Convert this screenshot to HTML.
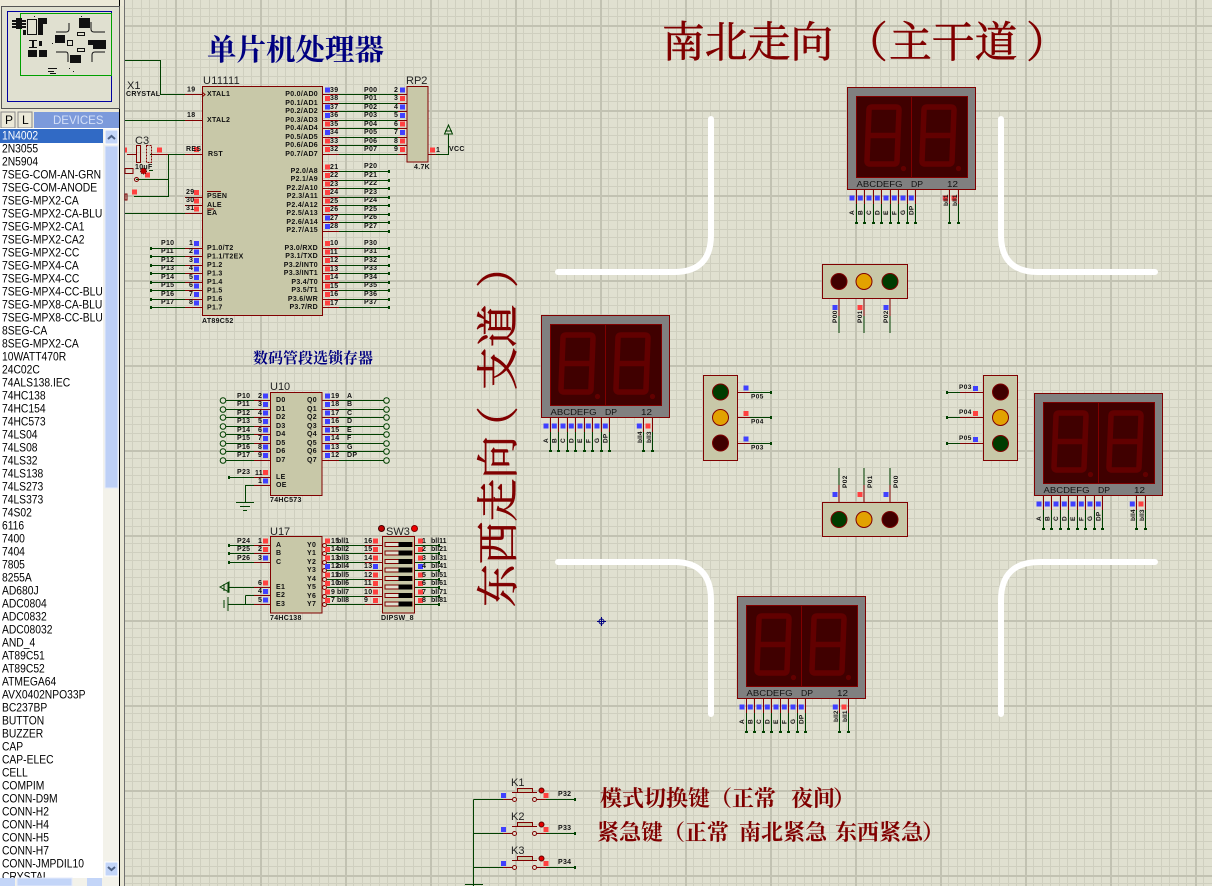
<!DOCTYPE html>
<html><head><meta charset="utf-8"><style>
html,body{margin:0;padding:0;background:#ece9d8}
svg{display:block}
.t{font:bold 6.5px "Liberation Sans",sans-serif;fill:#111;letter-spacing:.4px}
.n{font:bold 7px "Liberation Sans",sans-serif;fill:#111;letter-spacing:.3px}
.b{font:11px "Liberation Sans",sans-serif;fill:#222}
.d{font:12px "Liberation Sans",sans-serif;fill:#000}
.h{font-family:"Liberation Serif","Noto Serif CJK SC",serif;fill:#800000}
.hl{font-size:42.8px;stroke:#800000;stroke-width:.6px}
.hm{font-size:22px;font-weight:bold}
.s{font-family:"Liberation Serif","Noto Serif CJK SC",serif;fill:#000080;font-weight:bold}
.x{font:8.5px "Liberation Sans",sans-serif;fill:#111}
.g{fill:none;stroke:#004000;stroke-width:1}
.a{fill:none;stroke:#004000;stroke-width:3}
.m{fill:none;stroke:#800000;stroke-width:1}
.R{fill:none;stroke:#ff4040;stroke-width:5}
.B{fill:none;stroke:#4040ff;stroke-width:5}
.c{fill:#c8c8a8;stroke:#800000;stroke-width:1}
</style></head><body>
<svg xmlns="http://www.w3.org/2000/svg" width="1212" height="886" viewBox="0 0 1212 886">
<defs>
<pattern id="grid" x="5" y="25" width="85" height="85" patternUnits="userSpaceOnUse">
<rect width="85" height="85" fill="#e0e0d0"/>
<path fill="#cfcfbf" d="M8 0h1v85h-1zM17 0h1v85h-1zM25 0h1v85h-1zM34 0h1v85h-1zM42 0h1v85h-1zM51 0h1v85h-1zM59 0h1v85h-1zM68 0h1v85h-1zM76 0h1v85h-1zM0 8h85v1h-85zM0 17h85v1h-85zM0 25h85v1h-85zM0 34h85v1h-85zM0 42h85v1h-85zM0 51h85v1h-85zM0 59h85v1h-85zM0 68h85v1h-85zM0 76h85v1h-85z"/>
<path fill="#c2c2b2" d="M0 0h2v85h-2zM0 0h85v2h-85z"/>
</pattern>
<g id="disp">
<rect x=".5" y=".5" width="128" height="102" fill="#808080" stroke="#800000"/>
<rect x="9.5" y="9.5" width="111" height="81" fill="#400000" stroke="#800000"/>
<path d="M64.5 9.500V90.500" stroke="#800000" fill="none"/>
<g fill="none" stroke="#620000" stroke-width="5.500">
<path d="M25 20H49Q52 20 52 23L50 74Q50 77 47 77H23Q20 77 20 74L22 23Q22 20 25 20ZM21 48.500H51"/>
<path d="M80 20H104Q107 20 107 23L105 74Q105 77 102 77H78Q75 77 75 74L77 23Q77 20 80 20ZM76 48.500H106"/>
</g>
<circle cx="56.500" cy="81.500" r="2.600" fill="#620000"/><circle cx="111.500" cy="81.500" r="2.600" fill="#620000"/>
<text class="x" x="9.500" y="100" textLength="46" lengthAdjust="spacingAndGlyphs">ABCDEFG</text>
<text class="x" x="64" y="100" textLength="12" lengthAdjust="spacingAndGlyphs">DP</text>
<text class="x" x="100" y="100" textLength="11" lengthAdjust="spacingAndGlyphs">12</text>
<path class="m" d="M9.500 103v14M17.500 103v14M26.500 103v14M34.500 103v14M43.500 103v14M51.500 103v14M60.500 103v14M68.500 103v14M102.500 103v14M111.500 103v14"/>
<path class="g" d="M9.500 117v19M17.500 117v19M26.500 117v19M34.500 117v19M43.500 117v19M51.500 117v19M60.500 117v19M68.500 117v19M102.500 117v19M111.500 117v19"/>
<path fill="#004000" d="M8 135h3v2h-3zM16 135h3v2h-3zM25 135h3v2h-3zM33 135h3v2h-3zM42 135h3v2h-3zM50 135h3v2h-3zM59 135h3v2h-3zM67 135h3v2h-3zM101 135h3v2h-3zM110 135h3v2h-3z"/>
<path class="B" d="M2.500 111h5M10.800 111h5M19.500 111h5M27.800 111h5M36.500 111h5M44.800 111h5M53.500 111h5M61.800 111h5M95.800 111h5"/>
<path class="R" d="M104.500 111h5"/>
<g class="t" style="letter-spacing:.2px">
<text transform="translate(7,128)rotate(-90)">A</text><text transform="translate(15.300,128)rotate(-90)">B</text><text transform="translate(24,128)rotate(-90)">C</text><text transform="translate(32.300,128)rotate(-90)">D</text><text transform="translate(41,128)rotate(-90)">E</text><text transform="translate(49.300,128)rotate(-90)">F</text><text transform="translate(58,128)rotate(-90)">G</text><text transform="translate(66.300,128)rotate(-90)">DP</text>
</g>
</g>
</defs>

<!-- left panel -->
<rect width="1212" height="886" fill="#ece9d8"/>
<rect x="125" y="0" width="1087" height="886" fill="url(#grid)"/>
<path fill="#000" d="M119 0h1v886h-1z"/>
<path fill="#707070" d="M124 0h1v886h-1z"/>
<rect x="120" y="6" width="4" height="880" fill="#e8e6d4"/>
<rect x="1.500" y="6.500" width="118" height="102" fill="#e0e0d0" stroke="#555"/>
<rect x="7.500" y="11.500" width="104" height="90" fill="none" stroke="#0000a0"/>
<rect x="20.500" y="13.500" width="91" height="62" fill="none" stroke="#00a000"/>
<g fill="#111">
<path d="M12 20h14v2h-14zM12 23h14v2h-14zM12 26h14v2h-14zM16 18h6v11h-6zM38 18h9v6h-9zM38 24h5v11h-5zM23 30h3v5h-3z"/>
<path d="M29 40h8v1h-8zM29 47h8v1h-8zM32 40h2v8h-2zM39 41h3v5h-3zM28 50h9v7h-9zM39 50h8v7h-8z"/>
<path d="M79 18h11v10h-11zM55 35h10v8h-10zM93 40h13v9h-13zM88 40h5v5h-5zM70 55h11v8h-11z"/>
<path d="M52 43h1v1h-1zM69 68h1v1h-1zM73 71h1v1h-1zM34 16h1v1h-1zM81 16h1v1h-1z"/>
<path d="M48 68h9v1h-9zM48 71h6v1h-6zM50 73h6v1h-6z"/>
</g>
<rect x="27.500" y="19.500" width="9" height="15" fill="#e0e0d0" stroke="#111"/>
<path fill="none" stroke="#111" d="M56 52H66q2 0 2 3V62M69 23V29q0 3-3 3H56M91 22V29q0 3 3 3H105M92 62V55q0-3 3-3H105"/>
<rect x="77.500" y="32.500" width="7" height="3" fill="#e0e0d0" stroke="#111"/>
<rect x="77.500" y="48.500" width="7" height="3" fill="#e0e0d0" stroke="#111"/>
<rect x="67.500" y="40.500" width="5" height="5" fill="#e0e0d0" stroke="#111"/>

<rect x="1" y="112" width="14" height="16" fill="#ece9d8" stroke="#888"/>
<rect x="18" y="112" width="14" height="16" fill="#ece9d8" stroke="#888"/>
<text x="5" y="124" style="font:12px 'Liberation Sans',sans-serif;fill:#000">P</text>
<text x="22" y="124" style="font:12px 'Liberation Sans',sans-serif;fill:#000">L</text>
<rect x="34" y="112" width="85" height="16" fill="#7c9adb"/>
<text x="53" y="124" style="font:11.500px 'Liberation Sans',sans-serif;fill:#d4e0f8">DEVICES</text>

<rect x="0" y="128" width="119" height="758" fill="#fff"/>
<rect x="0" y="129" width="103" height="14" fill="#316ac5"/>
<rect x="103" y="129" width="16" height="749" fill="#f3f2ea"/>
<rect x="105" y="130" width="13" height="14" fill="#c3d5f8" stroke="#fff"/>
<path d="M108 139l3.500-3 3.500 3" fill="none" stroke="#4d6185" stroke-width="2"/>
<rect x="105" y="146" width="13" height="342" fill="#bed0f6" stroke="#e4ebfb"/>
<rect x="105" y="862" width="13" height="14" fill="#c3d5f8" stroke="#fff"/>
<path d="M108 867l3.500 3 3.500-3" fill="none" stroke="#4d6185" stroke-width="2"/>
<text class="d" y="126.500" transform="scale(.86,1)">
<tspan x="2.300" dy="13" style="fill:#fff">1N4002</tspan>
<tspan x="2.300" dy="13">2N3055</tspan><tspan x="2.300" dy="13">2N5904</tspan><tspan x="2.300" dy="13">7SEG-COM-AN-GRN</tspan><tspan x="2.300" dy="13">7SEG-COM-ANODE</tspan><tspan x="2.300" dy="13">7SEG-MPX2-CA</tspan><tspan x="2.300" dy="13">7SEG-MPX2-CA-BLU</tspan><tspan x="2.300" dy="13">7SEG-MPX2-CA1</tspan><tspan x="2.300" dy="13">7SEG-MPX2-CA2</tspan><tspan x="2.300" dy="13">7SEG-MPX2-CC</tspan><tspan x="2.300" dy="13">7SEG-MPX4-CA</tspan><tspan x="2.300" dy="13">7SEG-MPX4-CC</tspan><tspan x="2.300" dy="13">7SEG-MPX4-CC-BLU</tspan><tspan x="2.300" dy="13">7SEG-MPX8-CA-BLU</tspan><tspan x="2.300" dy="13">7SEG-MPX8-CC-BLU</tspan><tspan x="2.300" dy="13">8SEG-CA</tspan><tspan x="2.300" dy="13">8SEG-MPX2-CA</tspan><tspan x="2.300" dy="13">10WATT470R</tspan><tspan x="2.300" dy="13">24C02C</tspan><tspan x="2.300" dy="13">74ALS138.IEC</tspan><tspan x="2.300" dy="13">74HC138</tspan><tspan x="2.300" dy="13">74HC154</tspan><tspan x="2.300" dy="13">74HC573</tspan><tspan x="2.300" dy="13">74LS04</tspan><tspan x="2.300" dy="13">74LS08</tspan><tspan x="2.300" dy="13">74LS32</tspan><tspan x="2.300" dy="13">74LS138</tspan><tspan x="2.300" dy="13">74LS273</tspan><tspan x="2.300" dy="13">74LS373</tspan><tspan x="2.300" dy="13">74S02</tspan><tspan x="2.300" dy="13">6116</tspan><tspan x="2.300" dy="13">7400</tspan><tspan x="2.300" dy="13">7404</tspan><tspan x="2.300" dy="13">7805</tspan><tspan x="2.300" dy="13">8255A</tspan><tspan x="2.300" dy="13">AD680J</tspan><tspan x="2.300" dy="13">ADC0804</tspan><tspan x="2.300" dy="13">ADC0832</tspan><tspan x="2.300" dy="13">ADC08032</tspan><tspan x="2.300" dy="13">AND_4</tspan><tspan x="2.300" dy="13">AT89C51</tspan><tspan x="2.300" dy="13">AT89C52</tspan><tspan x="2.300" dy="13">ATMEGA64</tspan><tspan x="2.300" dy="13">AVX0402NPO33P</tspan><tspan x="2.300" dy="13">BC237BP</tspan><tspan x="2.300" dy="13">BUTTON</tspan><tspan x="2.300" dy="13">BUZZER</tspan><tspan x="2.300" dy="13">CAP</tspan><tspan x="2.300" dy="13">CAP-ELEC</tspan><tspan x="2.300" dy="13">CELL</tspan><tspan x="2.300" dy="13">COMPIM</tspan><tspan x="2.300" dy="13">CONN-D9M</tspan><tspan x="2.300" dy="13">CONN-H2</tspan><tspan x="2.300" dy="13">CONN-H4</tspan><tspan x="2.300" dy="13">CONN-H5</tspan><tspan x="2.300" dy="13">CONN-H7</tspan><tspan x="2.300" dy="13">CONN-JMPDIL10</tspan><tspan x="2.300" dy="13">CRYSTAL</tspan>
</text>
<rect x="0" y="878" width="119" height="8" fill="#f3f2ea"/>
<rect x="0" y="878" width="15" height="8" fill="#c3d5f8"/>
<rect x="17" y="878" width="55" height="8" fill="#c3d5f8" stroke="#e4ebfb"/>
<rect x="87" y="878" width="15" height="8" fill="#c3d5f8"/>

<!-- roads -->
<g fill="none" stroke="#fff" stroke-width="6" stroke-linecap="round">
<path d="M711 119V235Q711 272 674 272H558"/>
<path d="M1001 119V235Q1001 272 1038 272H1155"/>
<path d="M558 562H674Q711 562 711 600V714"/>
<path d="M1155 562H1040Q1001 562 1001 600V714"/>
</g>

<!-- titles -->
<text class="s" x="207" y="60" style="font-size:29.500px">单片机处理器</text>
<text class="s" x="253" y="363" style="font-size:15px">数码管段选锁存器</text>
<g class="h hl">
<text x="662" y="57">南北走向</text><text x="845" y="57">（</text><text x="889" y="57">主干道</text><text x="1026" y="57">）</text>
</g>
<g class="h hl" transform="translate(513,607)rotate(-90)">
<text x="0" y="0">东西走向</text><text x="158" y="0">（</text><text x="217" y="0">支道</text><text x="319" y="0">）</text>
</g>
<g class="h hm">
<text x="600" y="806">模式切换键（正常</text><text x="791" y="806">夜间</text><text x="833" y="806">）</text>
<text x="597" y="840">紧急键（正常</text><text x="739" y="840">南北紧急</text><text x="835" y="840">东西紧急</text><text x="922" y="840">）</text>
</g>

<!-- MCU -->
<path class="g" d="M125 60.500H160.500V94.500H185M125 120.500H185M150 154.500H185M168.500 154.500V196.500H134M136 179.500H168M125 213.500H185M150 248.500H185M150 256.500H185M150 265.500H185M150 273.500H185M150 282.500H185M150 290.500H185M150 299.500H185M150 307.500H185"/>
<path class="a" d="M150 248.500h2M150 256.500h2M150 265.500h2M150 273.500h2M150 282.500h2M150 290.500h2M150 299.500h2M150 307.500h2M388 171.500h2M388 180.500h2M388 188.500h2M388 197.500h2M388 205.500h2M388 214.500h2M388 222.500h2M388 231.500h2M388 248.500h2M388 256.500h2M388 265.500h2M388 273.500h2M388 282.500h2M388 290.500h2M388 299.500h2M388 307.500h2M228 477.500h2M228 545.500h2M228 553.500h2M228 562.500h2M438 545.500h2M438 553.500h2M438 562.500h2M438 570.500h2M438 579.500h2M438 587.500h2M438 596.500h2M438 604.500h2M574 799.500h2M574 833.500h2M574 867.500h2M946 392.500h2M946 417.500h2M946 443.500h2M770 392.500h2M770 417.500h2M770 443.500h2"/>
<path class="m" d="M185 94.500H202M185 120.500H202M185 154.500H202M185 197.500H202M185 205.500H202M185 213.500H202M185 248.500H202M185 256.500H202M185 265.500H202M185 273.500H202M185 282.500H202M185 290.500H202M185 299.500H202M185 307.500H202"/>
<rect class="c" x="202.500" y="86.500" width="120" height="229"/>
<path class="m" d="M202 92l3 2.500-3 2.500"/>
<path class="g" d="M339 94.500H398M339 103.500H398M339 111.500H398M339 120.500H398M339 128.500H398M339 137.500H398M339 145.500H398M339 154.500H398M339 171.500H390M339 180.500H390M339 188.500H390M339 197.500H390M339 205.500H390M339 214.500H390M339 222.500H390M339 231.500H390M339 248.500H390M339 256.500H390M339 265.500H390M339 273.500H390M339 282.500H390M339 290.500H390M339 299.500H390M339 307.500H390"/>
<path class="m" d="M322 94.500H339M322 103.500H339M322 111.500H339M322 120.500H339M322 128.500H339M322 137.500H339M322 145.500H339M322 154.500H339M322 171.500H339M322 180.500H339M322 188.500H339M322 197.500H339M322 205.500H339M322 214.500H339M322 222.500H339M322 231.500H339M322 248.500H339M322 256.500H339M322 265.500H339M322 273.500H339M322 282.500H339M322 290.500H339M322 299.500H339M322 307.500H339M398 94.500H407M398 103.500H407M398 111.500H407M398 120.500H407M398 128.500H407M398 137.500H407M398 145.500H407M398 154.500H407M428 154.500H436"/>
<path class="B" d="M325 90h5M325 107h5M325 115.500h5M325 132.500h5M325 218h5M325 226.500h5M400 90h5M400 107h5M400 115.500h5M400 132.500h5M194 243.500h5M194 252h5M194 260.500h5M194 269h5M194 277.500h5M194 286h5M194 294.500h5M194 303h5"/>
<path class="R" d="M325 98.500h5M325 124h5M325 141h5M325 149.500h5M325 167h5M325 175.500h5M325 184h5M325 192.500h5M325 201h5M325 209.500h5M325 243.500h5M325 252h5M325 260.500h5M325 269h5M325 277.500h5M325 286h5M325 294.500h5M325 303h5M400 98.500h5M400 124h5M400 141h5M400 149.500h5M430 150h5M194 149.500h5M194 192.500h5M194 201h5M194 209h5M125 150h2M157 150h5M145 175h5M132 192h5"/>
<rect class="c" x="407" y="86.500" width="21" height="75.500"/>
<path class="g" d="M436 154.500H448.500V134M448.500 125l-4 9h8zM445 131h7"/>
<g fill="none" stroke="#800000"><rect x="136.500" y="145.500" width="4" height="17"/><rect x="146.500" y="145.500" width="5" height="17" stroke-dasharray="2 1"/><path d="M127 154.500H136M152 154.500H168"/><rect x="125" y="168.500" width="8" height="5"/><rect x="125" y="194" width="2" height="6"/><circle cx="136.500" cy="179.500" r="2"/></g>
<circle cx="143.500" cy="171" r="3" fill="#c00000" stroke="#400000" stroke-dasharray="1 1"/>
<path fill="#004000" d="M149 170h4v1h-4z"/>
<g class="n">
<text x="203" y="84" style="font:11px 'Liberation Sans',sans-serif;fill:#222;letter-spacing:.3px">U11111</text>
<text x="202" y="323">AT89C52</text>
<text x="207" y="96">XTAL1</text><text x="207" y="122">XTAL2</text><text x="208" y="156">RST</text>
<text x="207" y="198">PSEN</text><text x="207" y="207">ALE</text><text x="207" y="215">EA</text>
<text x="207" y="250">P1.0/T2</text><text x="207" y="258.500">P1.1/T2EX</text><text x="207" y="267">P1.2</text><text x="207" y="275.500">P1.3</text><text x="207" y="284">P1.4</text><text x="207" y="292.500">P1.5</text><text x="207" y="301">P1.6</text><text x="207" y="309.500">P1.7</text>
<text x="187" y="91.500">19</text><text x="187" y="117">18</text><text x="186" y="151">RES</text><text x="186" y="194">29</text><text x="186" y="202">30</text><text x="186" y="210">31</text>
<text x="189" y="245">1</text><text x="189" y="253">2</text><text x="189" y="262">3</text><text x="189" y="270">4</text><text x="189" y="279">5</text><text x="189" y="287">6</text><text x="189" y="296">7</text><text x="189" y="304">8</text>
<text x="161" y="245">P10</text><text x="161" y="253">P11</text><text x="161" y="262">P12</text><text x="161" y="270">P13</text><text x="161" y="279">P14</text><text x="161" y="287">P15</text><text x="161" y="296">P16</text><text x="161" y="304">P17</text>
<g text-anchor="end"><text x="318" y="96">P0.0/AD0</text><text x="318" y="105">P0.1/AD1</text><text x="318" y="113">P0.2/AD2</text><text x="318" y="122">P0.3/AD3</text><text x="318" y="130">P0.4/AD4</text><text x="318" y="139">P0.5/AD5</text><text x="318" y="147">P0.6/AD6</text><text x="318" y="156">P0.7/AD7</text>
<text x="318" y="173">P2.0/A8</text><text x="318" y="181">P2.1/A9</text><text x="318" y="190">P2.2/A10</text><text x="318" y="198">P2.3/A11</text><text x="318" y="207">P2.4/A12</text><text x="318" y="215">P2.5/A13</text><text x="318" y="224">P2.6/A14</text><text x="318" y="232">P2.7/A15</text>
<text x="318" y="250">P3.0/RXD</text><text x="318" y="258">P3.1/TXD</text><text x="318" y="267">P3.2/INT0</text><text x="318" y="275">P3.3/INT1</text><text x="318" y="284">P3.4/T0</text><text x="318" y="292">P3.5/T1</text><text x="318" y="301">P3.6/WR</text><text x="318" y="309">P3.7/RD</text></g>
<text x="330" y="92">39</text><text x="330" y="100">38</text><text x="330" y="109">37</text><text x="330" y="117">36</text><text x="330" y="126">35</text><text x="330" y="134">34</text><text x="330" y="143">33</text><text x="330" y="151">32</text>
<text x="330" y="169">21</text><text x="330" y="177">22</text><text x="330" y="186">23</text><text x="330" y="194">24</text><text x="330" y="203">25</text><text x="330" y="211">26</text><text x="330" y="220">27</text><text x="330" y="228">28</text>
<text x="330" y="245">10</text><text x="330" y="254">11</text><text x="330" y="262">12</text><text x="330" y="271">13</text><text x="330" y="279">14</text><text x="330" y="288">15</text><text x="330" y="296">16</text><text x="330" y="305">17</text>
<text x="364" y="92">P00</text><text x="364" y="100">P01</text><text x="364" y="109">P02</text><text x="364" y="117">P03</text><text x="364" y="126">P04</text><text x="364" y="134">P05</text><text x="364" y="143">P06</text><text x="364" y="151">P07</text>
<text x="364" y="168">P20</text><text x="364" y="177">P21</text><text x="364" y="185">P22</text><text x="364" y="194">P23</text><text x="364" y="202">P24</text><text x="364" y="211">P25</text><text x="364" y="219">P26</text><text x="364" y="228">P27</text>
<text x="364" y="245">P30</text><text x="364" y="253">P31</text><text x="364" y="262">P32</text><text x="364" y="270">P33</text><text x="364" y="279">P34</text><text x="364" y="287">P35</text><text x="364" y="296">P36</text><text x="364" y="304">P37</text>
<text x="394" y="92">2</text><text x="394" y="100">3</text><text x="394" y="109">4</text><text x="394" y="117">5</text><text x="394" y="126">6</text><text x="394" y="134">7</text><text x="394" y="143">8</text><text x="394" y="151">9</text>
<text x="436" y="152">1</text><text x="449" y="151">VCC</text><text x="414" y="169">4.7K</text>
<text x="126" y="96">CRYSTAL</text>
<text x="135" y="169">10uF</text>
</g>
<text class="b" x="127" y="89">X1</text><text class="b" x="135" y="144">C3</text><text class="b" x="406" y="84">RP2</text>
<path class="m" d="M207 191.500h14M207 209h7"/>

<!-- U10 -->
<rect class="c" x="270.500" y="392.500" width="51.500" height="103"/>
<path class="g" d="M225 400.500H254M225 409.500H254M225 417.500H254M225 426.500H254M225 434.500H254M225 443.500H254M225 451.500H254M225 460.500H254M228 477.500H254M245.500 485.500V502M236 502.500H254M240 506.500H250M243 510.500H247M339 400.500H384M339 409.500H384M339 417.500H384M339 426.500H384M339 434.500H384M339 443.500H384M339 451.500H384M339 460.500H384M245 485.500H254"/>
<path class="m" d="M254 400.500H270M254 409.500H270M254 417.500H270M254 426.500H270M254 434.500H270M254 443.500H270M254 451.500H270M254 460.500H270M254 477.500H270M254 485.500H270M322 400.500H339M322 409.500H339M322 417.500H339M322 426.500H339M322 434.500H339M322 443.500H339M322 451.500H339M322 460.500H339"/>
<g fill="#e0e0d0" stroke="#004000"><circle cx="223" cy="400.500" r="2.800"/><circle cx="223" cy="409.500" r="2.800"/><circle cx="223" cy="417.500" r="2.800"/><circle cx="223" cy="426.500" r="2.800"/><circle cx="223" cy="434.500" r="2.800"/><circle cx="223" cy="443.500" r="2.800"/><circle cx="223" cy="451.500" r="2.800"/><circle cx="223" cy="460.500" r="2.800"/><circle cx="386.500" cy="400.500" r="2.800"/><circle cx="386.500" cy="409.500" r="2.800"/><circle cx="386.500" cy="417.500" r="2.800"/><circle cx="386.500" cy="426.500" r="2.800"/><circle cx="386.500" cy="434.500" r="2.800"/><circle cx="386.500" cy="443.500" r="2.800"/><circle cx="386.500" cy="451.500" r="2.800"/><circle cx="386.500" cy="460.500" r="2.800"/></g>
<path class="B" d="M263 396h5M263 404.500h5M263 413h5M263 421.500h5M263 430h5M263 438.500h5M263 447h5M263 455.500h5M263 481h5M325 396h5M325 404.500h5M325 413h5M325 421.500h5M325 430h5M325 438.500h5M325 447h5M325 455.500h5"/>
<path class="R" d="M263 472.500h5"/>
<g class="n">
<text x="276" y="402">D0</text><text x="276" y="411">D1</text><text x="276" y="419">D2</text><text x="276" y="428">D3</text><text x="276" y="436">D4</text><text x="276" y="445">D5</text><text x="276" y="453">D6</text><text x="276" y="462">D7</text><text x="276" y="479">LE</text><text x="276" y="487">OE</text>
<text x="307" y="402">Q0</text><text x="307" y="411">Q1</text><text x="307" y="419">Q2</text><text x="307" y="428">Q3</text><text x="307" y="436">Q4</text><text x="307" y="445">Q5</text><text x="307" y="453">Q6</text><text x="307" y="462">Q7</text>
<text x="237" y="398">P10</text><text x="237" y="406">P11</text><text x="237" y="415">P12</text><text x="237" y="423">P13</text><text x="237" y="432">P14</text><text x="237" y="440">P15</text><text x="237" y="449">P16</text><text x="237" y="457">P17</text><text x="237" y="474">P23</text>
<text x="258" y="398">2</text><text x="258" y="406">3</text><text x="258" y="415">4</text><text x="258" y="423">5</text><text x="258" y="432">6</text><text x="258" y="440">7</text><text x="258" y="449">8</text><text x="258" y="457">9</text><text x="255" y="475">11</text><text x="258" y="483">1</text>
<text x="331" y="398">19</text><text x="331" y="406">18</text><text x="331" y="415">17</text><text x="331" y="423">16</text><text x="331" y="432">15</text><text x="331" y="440">14</text><text x="331" y="449">13</text><text x="331" y="457">12</text>
<text x="347" y="398">A</text><text x="347" y="406">B</text><text x="347" y="415">C</text><text x="347" y="423">D</text><text x="347" y="432">E</text><text x="347" y="440">F</text><text x="347" y="449">G</text><text x="347" y="457">DP</text>
<text x="270" y="502">74HC573</text>
</g>
<text class="b" x="270" y="390">U10</text>

<!-- U17 -->
<rect class="c" x="270.500" y="536.500" width="51.500" height="76.500"/>
<path class="g" d="M228 545.500H254M228 553.500H254M228 562.500H254M228 587.500H254M228 604.500H254M245.500 595.500V604.500M245.500 595.500H254M228 582v11M224 584v7M220 587l9-5v10zM327 545.500H365M327 553.500H365M327 562.500H365M327 570.500H365M327 579.500H365M327 587.500H365M327 596.500H365M327 604.500H365M414 545.500H440M414 553.500H440M414 562.500H440M414 570.500H440M414 579.500H440M414 587.500H440M414 596.500H440M414 604.500H440"/>
<path class="g" d="M228 597v14M224 600v8"/>
<path class="m" d="M254 545.500H270M254 553.500H270M254 562.500H270M254 587.500H270M254 595.500H270M254 604.500H270M365 545.500H382M365 553.500H382M365 562.500H382M365 570.500H382M365 579.500H382M365 587.500H382M365 596.500H382M365 604.500H382"/>
<g fill="none" stroke="#800000"><circle cx="324.500" cy="545.500" r="2"/><circle cx="324.500" cy="553.500" r="2"/><circle cx="324.500" cy="562.500" r="2"/><circle cx="324.500" cy="570.500" r="2"/><circle cx="324.500" cy="579.500" r="2"/><circle cx="324.500" cy="587.500" r="2"/><circle cx="324.500" cy="596.500" r="2"/><circle cx="324.500" cy="604.500" r="2"/></g>
<path class="R" d="M263 541h5M263 549.500h5M263 583h5M325 541h5M325 549.500h5M325 558h5M325 575h5M325 583.500h5M325 592h5M325 600.500h5M373 541h5M373 549.500h5M373 558h5M373 575h5M373 583.500h5M373 592h5M373 600.500h5M418 541h5M418 549.500h5M418 558h5M418 575h5M418 583.500h5M418 592h5M418 600.500h5"/>
<path class="B" d="M263 558h5M263 591.500h5M263 600h5M325 566.500h5M373 566.500h5M418 566.500h5"/>
<rect class="c" x="382.500" y="536.500" width="32" height="76.500"/>
<g fill="#e0e0d0" stroke="#800000"><rect x="385" y="542.500" width="27" height="4"/><rect x="385" y="551" width="27" height="4"/><rect x="385" y="559.500" width="27" height="4"/><rect x="385" y="568" width="27" height="4"/><rect x="385" y="576.500" width="27" height="4"/><rect x="385" y="585" width="27" height="4"/><rect x="385" y="593.500" width="27" height="4"/><rect x="385" y="602" width="27" height="4"/></g>
<path fill="#000" d="M398.500 542h13.500v5h-13.500zM398.500 550.500h13.500v5h-13.500zM398.500 559h13.500v5h-13.500zM398.500 567.500h13.500v5h-13.500zM398.500 576h13.500v5h-13.500zM398.500 584.500h13.500v5h-13.500zM398.500 593h13.500v5h-13.500zM398.500 601.500h13.500v5h-13.500z"/>
<circle cx="381.500" cy="528.500" r="3" fill="#c00000" stroke="#400000"/><circle cx="414.500" cy="528.500" r="3" fill="#f00000" stroke="#800000"/>
<g class="n">
<text x="276" y="547">A</text><text x="276" y="555">B</text><text x="276" y="564">C</text><text x="276" y="589">E1</text><text x="276" y="597">E2</text><text x="276" y="606">E3</text>
<text x="307" y="547">Y0</text><text x="307" y="555">Y1</text><text x="307" y="564">Y2</text><text x="307" y="572">Y3</text><text x="307" y="581">Y4</text><text x="307" y="589">Y5</text><text x="307" y="598">Y6</text><text x="307" y="606">Y7</text>
<text x="237" y="543">P24</text><text x="237" y="551">P25</text><text x="237" y="560">P26</text>
<text x="258" y="543">1</text><text x="258" y="551">2</text><text x="258" y="560">3</text><text x="258" y="585">6</text><text x="258" y="593">4</text><text x="258" y="602">5</text>
<text x="331" y="543">15</text><text x="331" y="551">14</text><text x="331" y="560">13</text><text x="331" y="568">12</text><text x="331" y="577">11</text><text x="331" y="585">10</text><text x="331" y="594">9</text><text x="331" y="602">7</text>
<text x="337" y="543" style="letter-spacing:0">bll1</text><text x="337" y="551" style="letter-spacing:0">bll2</text><text x="337" y="560" style="letter-spacing:0">bll3</text><text x="337" y="568" style="letter-spacing:0">bll4</text><text x="337" y="577" style="letter-spacing:0">bll5</text><text x="337" y="585" style="letter-spacing:0">bll6</text><text x="337" y="594" style="letter-spacing:0">bll7</text><text x="337" y="602" style="letter-spacing:0">bll8</text>
<text x="364" y="543">16</text><text x="364" y="551">15</text><text x="364" y="560">14</text><text x="364" y="568">13</text><text x="364" y="577">12</text><text x="364" y="585">11</text><text x="364" y="594">10</text><text x="364" y="602">9</text>
<text x="422" y="543">1</text><text x="422" y="551">2</text><text x="422" y="560">3</text><text x="422" y="568">4</text><text x="422" y="577">5</text><text x="422" y="585">6</text><text x="422" y="594">7</text><text x="422" y="602">8</text>
<text x="431" y="543" style="letter-spacing:0">bll11</text><text x="431" y="551" style="letter-spacing:0">bll21</text><text x="431" y="560" style="letter-spacing:0">bll31</text><text x="431" y="568" style="letter-spacing:0">bll41</text><text x="431" y="577" style="letter-spacing:0">bll51</text><text x="431" y="585" style="letter-spacing:0">bll61</text><text x="431" y="594" style="letter-spacing:0">bll71</text><text x="431" y="602" style="letter-spacing:0">bll81</text>
<text x="270" y="620">74HC138</text><text x="381" y="620">DIPSW_8</text>
</g>
<text class="b" x="270" y="535">U17</text><text class="b" x="386" y="535">SW3</text>

<!-- displays -->
<use href="#disp" x="541" y="315"/>
<use href="#disp" x="847" y="87"/>
<use href="#disp" x="1034" y="393"/>
<use href="#disp" x="737" y="596"/>
<path class="R" d="M942.800 198h5"/>
<g class="t" style="letter-spacing:.1px">
<text transform="translate(642,443)rotate(-90)">bll4</text><text transform="translate(651,443)rotate(-90)">bll3</text>
<text transform="translate(948,206)rotate(-90)">bll1</text><text transform="translate(957,206)rotate(-90)">bll1</text>
<text transform="translate(1135,521)rotate(-90)">bll4</text><text transform="translate(1144,521)rotate(-90)">bll3</text>
<text transform="translate(838,722)rotate(-90)">bll2</text><text transform="translate(847,722)rotate(-90)">bll1</text>
</g>

<!-- traffic lights -->
<g>
<path class="m" d="M738 392.500H750M738 417.500H750M738 443.500H750M960 392.500H983M960 417.500H983M960 443.500H983M839 298V316M864 298V316M890 298V316M839 485V502M864 485V502M890 485V502"/>
<path class="g" d="M750 392.500H772M750 417.500H772M750 443.500H772M948 392.500H960M948 417.500H960M948 443.500H960M839 316V333M864 316V333M890 316V333M839 468V485M864 468V485M890 468V485"/>
<rect class="c" x="703.500" y="375.500" width="34" height="85"/>
<rect class="c" x="983.500" y="375.500" width="34" height="85"/>
<rect class="c" x="822.500" y="264.500" width="85" height="34"/>
<rect class="c" x="822.500" y="502.500" width="85" height="34"/>
<g stroke="#800000" stroke-width="1">
<circle cx="720.500" cy="392" r="8" fill="#003c00"/><circle cx="720.500" cy="417.500" r="8" fill="#e2a200"/><circle cx="720.500" cy="443" r="8" fill="#400000"/>
<circle cx="1000.500" cy="392" r="8" fill="#400000"/><circle cx="1000.500" cy="417.500" r="8" fill="#e2a200"/><circle cx="1000.500" cy="443.500" r="8" fill="#003c00"/>
<circle cx="839" cy="281.500" r="8" fill="#400000"/><circle cx="864" cy="281.500" r="8" fill="#e2a200"/><circle cx="890" cy="281.500" r="8" fill="#003c00"/>
<circle cx="839" cy="519.500" r="8" fill="#003c00"/><circle cx="864" cy="519.500" r="8" fill="#e2a200"/><circle cx="890" cy="519.500" r="8" fill="#400000"/>
</g>
<path class="B" d="M743.500 388h5M743.500 439h5M973 388.500h5M973 439.500h5M832.500 307.500h5M883.500 307.500h5M832.500 494.500h5M883.500 494.500h5"/>
<path class="R" d="M743.500 413.500h5M973 413.500h5M857.500 307.500h5M857.500 494.500h5"/>
<g class="t">
<text x="751" y="398.500">P05</text><text x="751" y="423.500">P04</text><text x="751" y="449.500">P03</text>
<text x="959" y="389">P03</text><text x="959" y="414">P04</text><text x="959" y="440">P05</text>
<text transform="translate(837,323)rotate(-90)">P00</text><text transform="translate(862,323)rotate(-90)">P01</text><text transform="translate(888,323)rotate(-90)">P02</text>
<text transform="translate(847,488)rotate(-90)">P02</text><text transform="translate(872,488)rotate(-90)">P01</text><text transform="translate(898,488)rotate(-90)">P00</text>
</g>
</g>

<!-- buttons -->
<path class="g" d="M473.500 799.500V886M465 884.500H483M473.500 799.500H503M473.500 833.500H503M473.500 867.500H503M537 799.500H576M537 833.500H576M537 867.500H576"/>
<path class="m" d="M503 799.500H512M503 833.500H512M503 867.500H512M536 799.500H546M536 833.500H546M536 867.500H546M512 792.500H537M512 826.500H537M512 860.500H537"/>
<g fill="#c8c8a8" stroke="#800000"><rect x="517.500" y="788.500" width="15" height="4"/><rect x="517.500" y="822.500" width="15" height="4"/><rect x="517.500" y="856.500" width="15" height="4"/></g>
<g fill="#e0e0d0" stroke="#800000"><circle cx="514.500" cy="799.500" r="2"/><circle cx="534.500" cy="799.500" r="2"/><circle cx="514.500" cy="833.500" r="2"/><circle cx="534.500" cy="833.500" r="2"/><circle cx="514.500" cy="867.500" r="2"/><circle cx="534.500" cy="867.500" r="2"/></g>
<g fill="#e00000" stroke="#600000"><circle cx="541.500" cy="790.500" r="2.500"/><circle cx="541.500" cy="824.500" r="2.500"/><circle cx="541.500" cy="858.500" r="2.500"/></g>
<path class="B" d="M501 795.500h5M501 829.500h5M501 863.500h5"/>
<path class="R" d="M543.500 795.500h5M543.500 829.500h5M543.500 863.500h5"/>
<text class="b" x="511" y="786">K1</text><text class="b" x="511" y="820">K2</text><text class="b" x="511" y="854">K3</text>
<g class="n"><text x="558" y="796">P32</text><text x="558" y="830">P33</text><text x="558" y="864">P34</text></g>

<!-- origin marker -->
<circle cx="601.500" cy="621.500" r="2.500" fill="none" stroke="#000080"/>
<path d="M601.500 617V626M597 621.500H606" stroke="#000080" fill="none"/>
</svg>
</body></html>
